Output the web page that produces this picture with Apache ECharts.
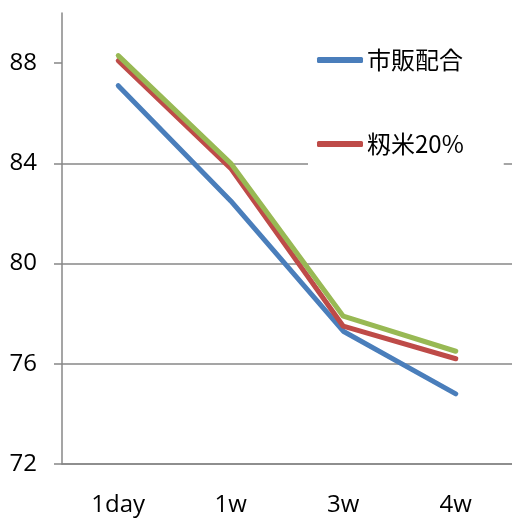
<!DOCTYPE html>
<html>
<head>
<meta charset="utf-8">
<script src="https://cdn.jsdelivr.net/npm/echarts@6/dist/echarts.min.js"></script>
<style>
  html, body { margin: 0; padding: 0; background: #fff; }
  #chart { width: 512px; height: 520px; }
</style>
</head>
<body>
<div id="chart"></div>
<script>
// Sampling points
const categories = ['1day', '1w', '3w', '4w'];

// Measured values per feed group
const commercialFeed = [87.1, 82.5, 77.3, 74.8];   // 市販配合
const paddyRice20 = [88.1, 83.8, 77.5, 76.2];      // 籾米20%
const paddyRice40 = [88.3, 84.0, 77.9, 76.5];

const yTicks = [72, 76, 80, 84, 88];

const chart = echarts.init(document.getElementById('chart'), null, { renderer: 'canvas' });

const axisGray = '#878787';
const latin = '"Open Sans", "Noto Sans", sans-serif';
const cjk = '"Noto Sans CJK JP", "Open Sans", sans-serif';

function lineSeries(name, data, color) {
  return {
    name: name,
    type: 'line',
    data: data,
    symbol: 'none',
    lineStyle: { color: color, width: 5, cap: 'round', join: 'round' },
    itemStyle: { color: color }
  };
}

chart.setOption({
  animation: false,
  backgroundColor: '#fff',
  grid: { left: 62, right: -3, top: 13, bottom: 56, containLabel: false },
  legend: {
    data: ['市販配合', '籾米20%'],
    orient: 'vertical',
    left: 308,
    top: 38,
    padding: [10, 40, 12, 9],
    backgroundColor: '#fff',
    itemWidth: 46,
    itemHeight: 6,
    itemGap: 60,
    icon: 'roundRect',
    textStyle: { fontFamily: cjk, fontSize: 24, color: '#000', padding: [0, 0, 0, -1] }
  },
  xAxis: {
    type: 'category',
    data: categories,
    boundaryGap: true,
    axisLine: { lineStyle: { color: axisGray, width: 1.5 } },
    axisTick: { show: false },
    axisLabel: { fontFamily: latin, fontSize: 24, color: '#000', margin: 29 }
  },
  yAxis: {
    type: 'value',
    min: 72,
    max: 90,
    interval: 4,
    axisLine: { show: true, lineStyle: { color: axisGray, width: 1.5 } },
    axisTick: { show: true, length: 8, customValues: yTicks, lineStyle: { color: axisGray, width: 1.5 } },
    axisLabel: { customValues: yTicks, fontFamily: latin, fontSize: 24, color: '#000', margin: 25 },
    splitLine: { show: true, showMaxLine: false, lineStyle: { color: axisGray, width: 1.5 } }
  },
  series: [
    lineSeries('市販配合', commercialFeed, '#4a7ebb'),
    lineSeries('籾米20%', paddyRice20, '#be4b48'),
    lineSeries('籾米40%', paddyRice40, '#98b954')
  ]
});
</script>
</body>
</html>
